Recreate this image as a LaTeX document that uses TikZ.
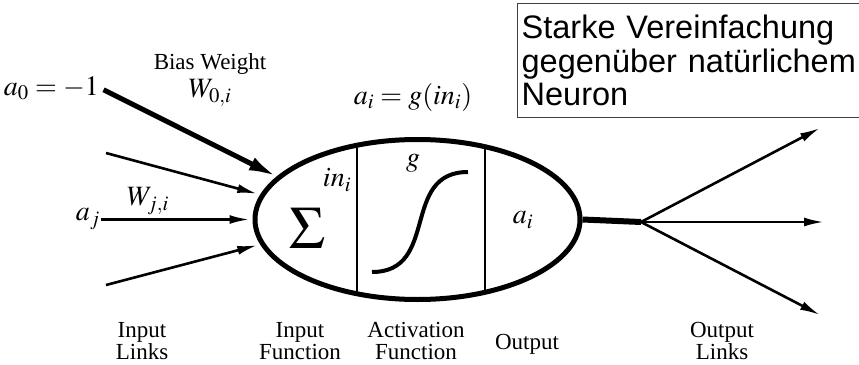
\documentclass[tikz,border=0pt]{standalone}
\usepackage{mathptmx}
\usepackage{fontspec}
\setmainfont{Liberation Serif}
\newfontfamily\arialfont{Liberation Sans}
\usetikzlibrary{positioning, shapes.geometric, arrows.meta}
\tikzstyle{neuron} = [ellipse, draw=black, line width=5pt, minimum width=325pt, minimum height=160pt, inner sep=0pt]
\tikzstyle{divider} = [line width=2pt]
\tikzstyle{sigmoid} = [line width=4pt]
\tikzstyle{arrow} = [-{Latex[length=20pt,width=9pt]}, line width=2.6pt]
\tikzstyle{biasarrow} = [-{Latex[length=28pt,width=14pt]}, line width=5pt]
\tikzstyle{outline} = [line width=6pt]
\tikzstyle{lbl} = [font=\fontsize{23}{22}\selectfont, align=center, inner sep=1pt]
\tikzstyle{mlbl} = [font=\fontsize{28}{28}\selectfont, inner sep=1pt]
\tikzstyle{notebox} = [draw=black!75, line width=1.3pt, anchor=north west, text width=370pt, align=left, inner xsep=4pt, minimum height=114pt, font=\arialfont\fontsize{32.5}{33.5}\selectfont]

\begin{document}
\begin{tikzpicture}[x=1pt, y=-1pt]
    \useasboundingbox (0,0) rectangle (859,364);

    % the unit
    \node [neuron] (neuron) at (417.5,219.5) {};
    \draw [divider] (357,145) -- (357,294);
    \draw [divider] (485,147) -- (485,292);
    \node [mlbl, font=\fontsize{60}{60}\selectfont] (sum) at (307,228) {$\Sigma$};
    \node [mlbl] (in) at (337,180) {$in_i$};
    \node [mlbl] (g) at (413,163) {$g$};
    \draw [sigmoid] (372,272) .. controls (440,272) and (400,172) .. (468,172);
    \node [mlbl] (ai) at (523,220) {$a_i$};
    \node [mlbl] (act) at (413,97) {$a_i = g(in_i)$};

    % inputs
    \node [mlbl, anchor=east] (a0) at (100,88) {$a_0 = -1$};
    \node [lbl] (bias) at (210,64) {Bias Weight};
    \node [mlbl, below=of bias, yshift=0.9cm] (w0) {$W_{0,i}$};
    \node [mlbl, anchor=east] (aj) at (101,219) {$a_j$};
    \node [mlbl] (wj) at (148,201) {$W_{j,i}$};
    \coordinate (in2) at (106,153);
    \coordinate (in4) at (106,285);

    \draw [biasarrow, shorten <=4pt] (a0.east) -- (neuron.163);
    \draw [arrow, shorten >=3pt] (in2) -- (neuron.171);
    \draw [arrow, shorten >=3pt] (aj.east |- neuron.west) -- (neuron.west);
    \draw [arrow, shorten >=3pt] (in4) -- (neuron.189);

    % outputs
    \coordinate (br) at (641,222);
    \coordinate (o1) at (820,128);
    \coordinate (o2) at (824,222);
    \coordinate (o3) at (820,315);
    \draw [outline] (neuron.east) -- (br);
    \draw [arrow] (br) -- (o1);
    \draw [arrow] (br) -- (o2);
    \draw [arrow] (br) -- (o3);

    % captions
    \node [lbl] (inlinks) at (142,341) {Input\\Links};
    \node [lbl] (infunc) at (300,341) {Input\\Function};
    \node [lbl] (actfunc) at (416,341) {Activation\\Function};
    \node [lbl] (outp) at (527,344) {Output};
    \node [lbl] (outlinks) at (722,341) {Output\\Links};

    \node [notebox] (note) at (517,3) {Starke Vereinfachung\\gegenüber natürlichem\\Neuron};
\end{tikzpicture}
\end{document}
